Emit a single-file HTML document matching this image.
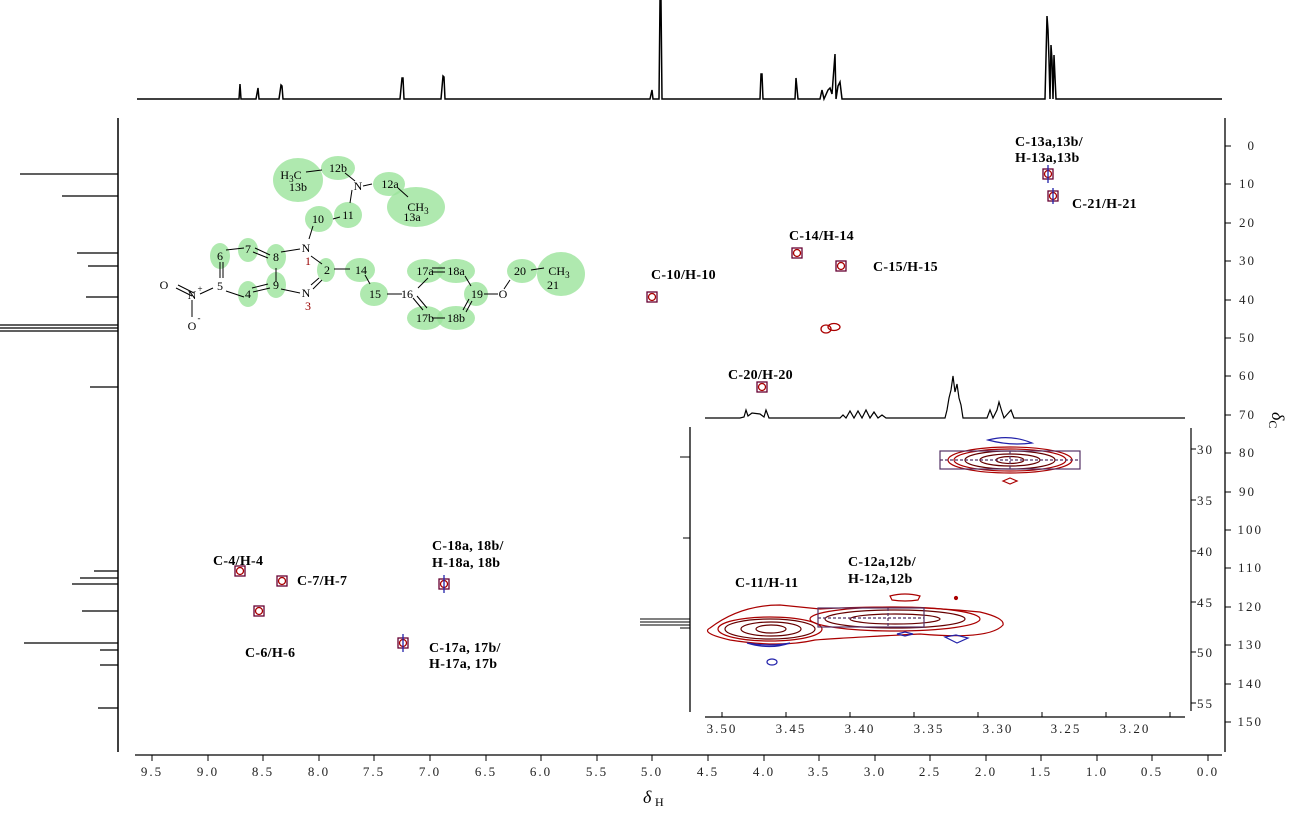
<!DOCTYPE html>
<html><head><style>
html,body{margin:0;padding:0;background:#fff;}
svg text{font-family:"Liberation Serif",serif;}
.lb{font-weight:bold;font-size:14px;fill:#000;letter-spacing:0.3px}
.tk{font-size:13px;fill:#222;letter-spacing:2px}
.mn{font-size:12px;fill:#000;}
</style></head><body>
<svg width="1313" height="820" viewBox="0 0 1313 820" xmlns="http://www.w3.org/2000/svg">
<rect width="1313" height="820" fill="#fff"/>
<!-- top 1D spectrum -->
<path d="M137 99 H237 L239 99 L240 84 L241 99 H256 L258 88 L259 99 H279 L281 85 L282 86 L283 99 H400 L402 78 L403 78 L404 99 H441 L443 76 L444 77 L445 99 H650 L652 90 L653 99 H659 L660 0 L661 0 L662 99 H760 L761 74 L762 74 L763 99 H795 L796 78 L798 99 H820 L822 90 L824 99 L828 90 L830 88 L832 94 L835 54 L836 99 L838 86 L840 82 L842 99 H1045 L1047 16 L1048 30 L1049 60 L1050 99 L1051 45 L1052 60 L1053 99 L1054 55 L1056 99 H1222" fill="none" stroke="#000" stroke-width="1.5"/>
<!-- left 1D spectrum -->
<line x1="118" y1="118" x2="118" y2="752" stroke="#000" stroke-width="1.5"/>
<g stroke="#000" stroke-width="1.3">
<line x1="118" y1="174" x2="20" y2="174"/><line x1="118" y1="196" x2="62" y2="196"/>
<line x1="118" y1="253" x2="77" y2="253"/><line x1="118" y1="266" x2="88" y2="266"/>
<line x1="118" y1="297" x2="86" y2="297"/><line x1="118" y1="325" x2="0" y2="325"/>
<line x1="118" y1="328" x2="0" y2="328"/><line x1="118" y1="331" x2="0" y2="331"/>
<line x1="118" y1="387" x2="90" y2="387"/><line x1="118" y1="571" x2="94" y2="571"/>
<line x1="118" y1="578" x2="80" y2="578"/><line x1="118" y1="584" x2="72" y2="584"/>
<line x1="118" y1="611" x2="82" y2="611"/><line x1="118" y1="643" x2="24" y2="643"/>
<line x1="118" y1="650" x2="100" y2="650"/><line x1="118" y1="665" x2="100" y2="665"/>
<line x1="118" y1="708" x2="98" y2="708"/>
</g>
<!-- bottom axis -->
<line x1="135" y1="755" x2="1222" y2="755" stroke="#000" stroke-width="1.3"/>
<g stroke="#000">
<line x1="152" y1="755" x2="152" y2="761"/><line x1="208" y1="755" x2="208" y2="761"/><line x1="263" y1="755" x2="263" y2="761"/><line x1="319" y1="755" x2="319" y2="761"/><line x1="374" y1="755" x2="374" y2="761"/><line x1="430" y1="755" x2="430" y2="761"/><line x1="486" y1="755" x2="486" y2="761"/><line x1="541" y1="755" x2="541" y2="761"/><line x1="597" y1="755" x2="597" y2="761"/><line x1="652" y1="755" x2="652" y2="761"/><line x1="708" y1="755" x2="708" y2="761"/><line x1="764" y1="755" x2="764" y2="761"/><line x1="819" y1="755" x2="819" y2="761"/><line x1="875" y1="755" x2="875" y2="761"/><line x1="930" y1="755" x2="930" y2="761"/><line x1="986" y1="755" x2="986" y2="761"/><line x1="1041" y1="755" x2="1041" y2="761"/><line x1="1097" y1="755" x2="1097" y2="761"/><line x1="1152" y1="755" x2="1152" y2="761"/><line x1="1208" y1="755" x2="1208" y2="761"/>
</g>
<g class="tk" text-anchor="middle">
<text x="152" y="776">9.5</text><text x="208" y="776">9.0</text><text x="263" y="776">8.5</text><text x="319" y="776">8.0</text><text x="374" y="776">7.5</text><text x="430" y="776">7.0</text><text x="486" y="776">6.5</text><text x="541" y="776">6.0</text><text x="597" y="776">5.5</text><text x="652" y="776">5.0</text><text x="708" y="776">4.5</text><text x="764" y="776">4.0</text><text x="819" y="776">3.5</text><text x="875" y="776">3.0</text><text x="930" y="776">2.5</text><text x="986" y="776">2.0</text><text x="1041" y="776">1.5</text><text x="1097" y="776">1.0</text><text x="1152" y="776">0.5</text><text x="1208" y="776">0.0</text>
</g>
<text x="643" y="803" style="font-size:18px;font-style:italic">δ</text><text x="655" y="806" style="font-size:12px">H</text>
<!-- right axis -->
<line x1="1225" y1="118" x2="1225" y2="752" stroke="#000" stroke-width="1.3"/>
<g stroke="#000">
<line x1="1225" y1="146" x2="1231" y2="146"/><line x1="1225" y1="184" x2="1231" y2="184"/><line x1="1225" y1="223" x2="1231" y2="223"/><line x1="1225" y1="261" x2="1231" y2="261"/><line x1="1225" y1="300" x2="1231" y2="300"/><line x1="1225" y1="338" x2="1231" y2="338"/><line x1="1225" y1="376" x2="1231" y2="376"/><line x1="1225" y1="415" x2="1231" y2="415"/><line x1="1225" y1="453" x2="1231" y2="453"/><line x1="1225" y1="492" x2="1231" y2="492"/><line x1="1225" y1="530" x2="1231" y2="530"/><line x1="1225" y1="568" x2="1231" y2="568"/><line x1="1225" y1="607" x2="1231" y2="607"/><line x1="1225" y1="645" x2="1231" y2="645"/><line x1="1225" y1="684" x2="1231" y2="684"/><line x1="1225" y1="722" x2="1231" y2="722"/>
</g>
<g class="tk" text-anchor="end">
<text x="1256" y="150">0</text><text x="1256" y="188">10</text><text x="1256" y="227">20</text><text x="1256" y="265">30</text><text x="1256" y="304">40</text><text x="1256" y="342">50</text><text x="1256" y="380">60</text><text x="1256" y="419">70</text><text x="1256" y="457">80</text><text x="1256" y="496">90</text><text x="1263" y="534">100</text><text x="1263" y="572">110</text><text x="1263" y="611">120</text><text x="1263" y="649">130</text><text x="1263" y="688">140</text><text x="1263" y="726">150</text>
</g>
<text transform="translate(1272,412) rotate(90)" style="font-size:18px;font-style:italic">δ<tspan style="font-size:12px;font-style:normal" dy="3">C</tspan></text>

<!-- cross peaks -->
<g fill="none" stroke-width="1.3">
<g transform="translate(1048,174)"><rect x="-5" y="-5" width="10" height="10" stroke="#603"/><circle r="3.5" stroke="#a00"/><path d="M0 -9 L0 9" stroke="#22a"/></g>
<g transform="translate(1053,196)"><rect x="-5" y="-5" width="10" height="10" stroke="#603"/><circle r="3.5" stroke="#a00"/><path d="M0 -8 L0 8" stroke="#22a"/></g>
<g transform="translate(797,253)"><rect x="-5" y="-5" width="10" height="10" stroke="#603"/><circle r="3.5" stroke="#a00"/></g>
<g transform="translate(841,266)"><rect x="-5" y="-5" width="10" height="10" stroke="#603"/><circle r="3.5" stroke="#a00"/></g>
<g transform="translate(831,328)"><ellipse cx="-5" cy="1" rx="5" ry="4" stroke="#a00"/><ellipse cx="3" cy="-1" rx="6" ry="3.5" stroke="#a00"/></g>
<g transform="translate(652,297)"><rect x="-5" y="-5" width="10" height="10" stroke="#603"/><circle r="3.5" stroke="#a00"/></g>
<g transform="translate(762,387)"><rect x="-5" y="-5" width="10" height="10" stroke="#603"/><circle r="3.5" stroke="#a00"/></g>
<g transform="translate(240,571)"><rect x="-5" y="-5" width="10" height="10" stroke="#603"/><circle r="3.5" stroke="#a00"/></g>
<g transform="translate(282,581)"><rect x="-5" y="-5" width="10" height="10" stroke="#603"/><circle r="3.5" stroke="#a00"/></g>
<g transform="translate(259,611)"><rect x="-5" y="-5" width="10" height="10" stroke="#603"/><circle r="3.5" stroke="#a00"/></g>
<g transform="translate(444,584)"><rect x="-5" y="-5" width="10" height="10" stroke="#603"/><circle r="3.5" stroke="#a00"/><path d="M0 -9 L0 9" stroke="#22a"/></g>
<g transform="translate(403,643)"><rect x="-5" y="-5" width="10" height="10" stroke="#603"/><circle r="3.5" stroke="#a00"/><path d="M0 -9 L0 9" stroke="#22a"/></g>
</g>
<!-- labels -->
<g class="lb">
<text x="1015" y="146">C-13a,13b/</text><text x="1015" y="162">H-13a,13b</text>
<text x="1072" y="208">C-21/H-21</text>
<text x="789" y="240">C-14/H-14</text>
<text x="873" y="271">C-15/H-15</text>
<text x="651" y="279">C-10/H-10</text>
<text x="728" y="379">C-20/H-20</text>
<text x="213" y="565">C-4/H-4</text>
<text x="297" y="585">C-7/H-7</text>
<text x="245" y="657">C-6/H-6</text>
<text x="432" y="550">C-18a, 18b/</text><text x="432" y="567">H-18a, 18b</text>
<text x="429" y="652">C-17a, 17b/</text><text x="429" y="668">H-17a, 17b</text>
</g>

<!-- molecule -->
<g fill="#9be39b" fill-opacity="0.8">
<ellipse cx="298" cy="180" rx="25" ry="22"/><ellipse cx="338" cy="168" rx="17" ry="12"/>
<ellipse cx="389" cy="184" rx="16" ry="12"/><ellipse cx="416" cy="207" rx="29" ry="20"/>
<ellipse cx="319" cy="219" rx="14" ry="13"/><ellipse cx="348" cy="215" rx="14" ry="13"/>
<ellipse cx="248" cy="250" rx="10" ry="12"/><ellipse cx="220" cy="256" rx="10" ry="13"/>
<ellipse cx="276" cy="257" rx="10" ry="13"/><ellipse cx="276" cy="285" rx="10" ry="13"/>
<ellipse cx="248" cy="294" rx="10" ry="13"/><ellipse cx="326" cy="270" rx="9" ry="12"/>
<ellipse cx="360" cy="270" rx="15" ry="12"/><ellipse cx="374" cy="294" rx="14" ry="12"/>
<ellipse cx="425" cy="271" rx="18" ry="12"/><ellipse cx="456" cy="271" rx="19" ry="12"/>
<ellipse cx="425" cy="318" rx="18" ry="12"/><ellipse cx="456" cy="318" rx="19" ry="12"/>
<ellipse cx="476" cy="294" rx="12" ry="12"/><ellipse cx="522" cy="271" rx="15" ry="12"/>
<ellipse cx="561" cy="274" rx="24" ry="22"/>
</g>
<g stroke="#000" stroke-width="1" fill="none">
<path d="M306 172 L322 170"/><path d="M345 173 L355 181"/><path d="M363 186 L372 184"/><path d="M398 188 L408 197"/>
<path d="M352 190 L350 203"/><path d="M333 219 L340 217"/><path d="M313 226 L309 239"/>
<path d="M226 250 L244 248"/><path d="M255 248 L270 255"/><path d="M253 252 L268 258"/>
<path d="M281 252 L300 249"/><path d="M276 268 L276 282"/><path d="M220 262 L220 278"/><path d="M223 262 L223 278"/>
<path d="M226 291 L244 297"/><path d="M253 292 L270 288"/><path d="M252 288 L268 284"/>
<path d="M281 289 L300 293"/><path d="M311 256 L322 264"/><path d="M313 289 L322 280"/><path d="M311 285 L319 278"/>
<path d="M334 269 L350 269"/><path d="M365 275 L370 284"/><path d="M387 294 L402 294"/>
<path d="M418 288 L428 278"/><path d="M413 298 L423 310"/><path d="M417 296 L427 308"/>
<path d="M432 268 L445 268"/><path d="M432 272 L445 272"/><path d="M432 318 L445 318"/>
<path d="M465 276 L471 286"/><path d="M472 301 L466 312"/><path d="M469 299 L463 310"/>
<path d="M484 294 L498 294"/><path d="M504 289 L510 280"/><path d="M531 270 L544 268"/>
<path d="M178 285 L194 293"/><path d="M176 288 L192 296"/><path d="M200 294 L213 288"/><path d="M192 300 L192 317"/>
</g>
<g class="mn" text-anchor="middle">
<text x="291" y="179">H<tspan font-size="9" dy="3">3</tspan><tspan dy="-3">C</tspan></text><text x="298" y="191">13b</text>
<text x="338" y="172">12b</text><text x="358" y="190">N</text><text x="390" y="188">12a</text>
<text x="418" y="211">CH<tspan font-size="9" dy="3">3</tspan></text><text x="412" y="221">13a</text>
<text x="318" y="223">10</text><text x="348" y="219">11</text>
<text x="248" y="253">7</text><text x="220" y="260">6</text><text x="276" y="261">8</text>
<text x="306" y="252">N</text><text x="308" y="265" fill="#900">1</text>
<text x="327" y="274">2</text><text x="361" y="274">14</text><text x="375" y="298">15</text><text x="407" y="298">16</text>
<text x="220" y="290">5</text><text x="276" y="289">9</text><text x="248" y="298">4</text>
<text x="306" y="297">N</text><text x="308" y="310" fill="#900">3</text>
<text x="425" y="275">17a</text><text x="456" y="275">18a</text><text x="425" y="322">17b</text><text x="456" y="322">18b</text>
<text x="477" y="298">19</text><text x="503" y="298">O</text><text x="520" y="275">20</text>
<text x="559" y="275">CH<tspan font-size="9" dy="3">3</tspan></text><text x="553" y="289">21</text>
<text x="164" y="289">O</text><text x="192" y="299">N</text><text x="200" y="292" font-size="9">+</text>
<text x="192" y="330">O</text><text x="199" y="321" font-size="9">-</text>
</g>

<!-- inset -->
<rect x="700" y="420" width="490" height="310" fill="#fff"/>
<path d="M705 418 H740 L744 417 L746 410 L748 416 L752 413 L760 414 L764 417 L766 410 L769 418 H840 L843 415 L846 418 L850 411 L854 418 L858 411 L862 418 L866 410 L870 418 L874 412 L878 418 L882 415 L886 418 H945 L947 410 L949 398 L951 390 L953 376 L955 392 L957 384 L959 398 L961 405 L963 418 H987 L990 410 L993 418 L997 410 L999 402 L1002 412 L1004 418 L1011 410 L1014 418 H1185" fill="none" stroke="#000" stroke-width="1.2"/>
<line x1="690" y1="427" x2="690" y2="712" stroke="#000" stroke-width="1.3"/>
<g stroke="#000"><line x1="690" y1="457" x2="680" y2="457"/><line x1="690" y1="538" x2="683" y2="538"/><line x1="690" y1="619" x2="640" y2="619"/><line x1="690" y1="622" x2="640" y2="622"/><line x1="690" y1="625" x2="640" y2="625"/><line x1="690" y1="628" x2="680" y2="628"/></g>
<line x1="705" y1="717" x2="1185" y2="717" stroke="#000" stroke-width="1.2"/>
<g stroke="#000"><line x1="722" y1="717" x2="722" y2="712"/><line x1="786" y1="717" x2="786" y2="712"/><line x1="850" y1="717" x2="850" y2="712"/><line x1="914" y1="717" x2="914" y2="712"/><line x1="978" y1="717" x2="978" y2="712"/><line x1="1042" y1="717" x2="1042" y2="712"/><line x1="1106" y1="717" x2="1106" y2="712"/><line x1="1170" y1="717" x2="1170" y2="712"/></g>
<g class="tk" text-anchor="middle"><text x="722" y="733">3.50</text><text x="791" y="733">3.45</text><text x="860" y="733">3.40</text><text x="929" y="733">3.35</text><text x="998" y="733">3.30</text><text x="1066" y="733">3.25</text><text x="1135" y="733">3.20</text></g>
<line x1="1191" y1="428" x2="1191" y2="711" stroke="#000" stroke-width="1.2"/>
<g stroke="#000"><line x1="1191" y1="449" x2="1196" y2="449"/><line x1="1191" y1="500" x2="1196" y2="500"/><line x1="1191" y1="551" x2="1196" y2="551"/><line x1="1191" y1="602" x2="1196" y2="602"/><line x1="1191" y1="652" x2="1196" y2="652"/><line x1="1191" y1="703" x2="1196" y2="703"/></g>
<g class="tk"><text x="1197" y="454">30</text><text x="1197" y="505">35</text><text x="1197" y="556">40</text><text x="1197" y="607">45</text><text x="1197" y="657">50</text><text x="1197" y="708">55</text></g>
<g fill="none" stroke-width="1.2">
<path d="M988 440 Q1010 434 1032 443 Q1010 446 988 440Z" stroke="#22a"/>
<ellipse cx="1010" cy="460" rx="62" ry="13" stroke="#a00"/><ellipse cx="1010" cy="460" rx="56" ry="11" stroke="#a00"/>
<ellipse cx="1010" cy="460" rx="45" ry="9" stroke="#600"/><ellipse cx="1010" cy="460" rx="30" ry="6" stroke="#600"/><ellipse cx="1010" cy="460" rx="14" ry="3.5" stroke="#600"/>
<rect x="940" y="451" width="140" height="18" stroke="#536"/><path d="M940 460 H1080 M1010 451 V469" stroke="#536" stroke-dasharray="3,2"/>
<path d="M1003 481 L1010 478 L1017 481 L1010 484Z" stroke="#a00"/>
<path d="M710 628 Q740 605 780 605 Q800 607 820 609 Q900 604 980 612 Q1005 618 1003 625 Q990 640 920 634 Q840 638 815 640 Q780 648 730 640 Q700 633 710 628Z" stroke="#a00"/>
<ellipse cx="770" cy="629" rx="52" ry="12" stroke="#a00"/><ellipse cx="770" cy="629" rx="45" ry="10" stroke="#600"/><ellipse cx="771" cy="629" rx="30" ry="7" stroke="#600"/><ellipse cx="771" cy="629" rx="15" ry="4" stroke="#600"/>
<ellipse cx="895" cy="619" rx="85" ry="12" stroke="#a00"/><ellipse cx="895" cy="619" rx="70" ry="9" stroke="#600"/><ellipse cx="895" cy="619" rx="45" ry="5" stroke="#600"/>
<rect x="818" y="608" width="106" height="19" stroke="#536"/><path d="M818 618 H924 M888 608 V627" stroke="#536" stroke-dasharray="3,2"/>
<path d="M890 596 Q905 592 920 596 L918 600 Q905 602 892 600Z" stroke="#a00"/>
<path d="M747 643 Q770 650 790 643 Q770 647 747 643Z" stroke="#22a"/><ellipse cx="772" cy="662" rx="5" ry="3" stroke="#22a"/>
<path d="M897 634 L905 632 L913 634 L905 636Z" stroke="#22a"/><path d="M945 637 L956 635 L968 638 L957 643Z" stroke="#22a"/>
<circle cx="956" cy="598" r="1.5" fill="#a00" stroke="#a00"/>
</g>
<g class="lb"><text x="735" y="587">C-11/H-11</text><text x="848" y="566">C-12a,12b/</text><text x="848" y="583">H-12a,12b</text></g>
</svg>
</body></html>
